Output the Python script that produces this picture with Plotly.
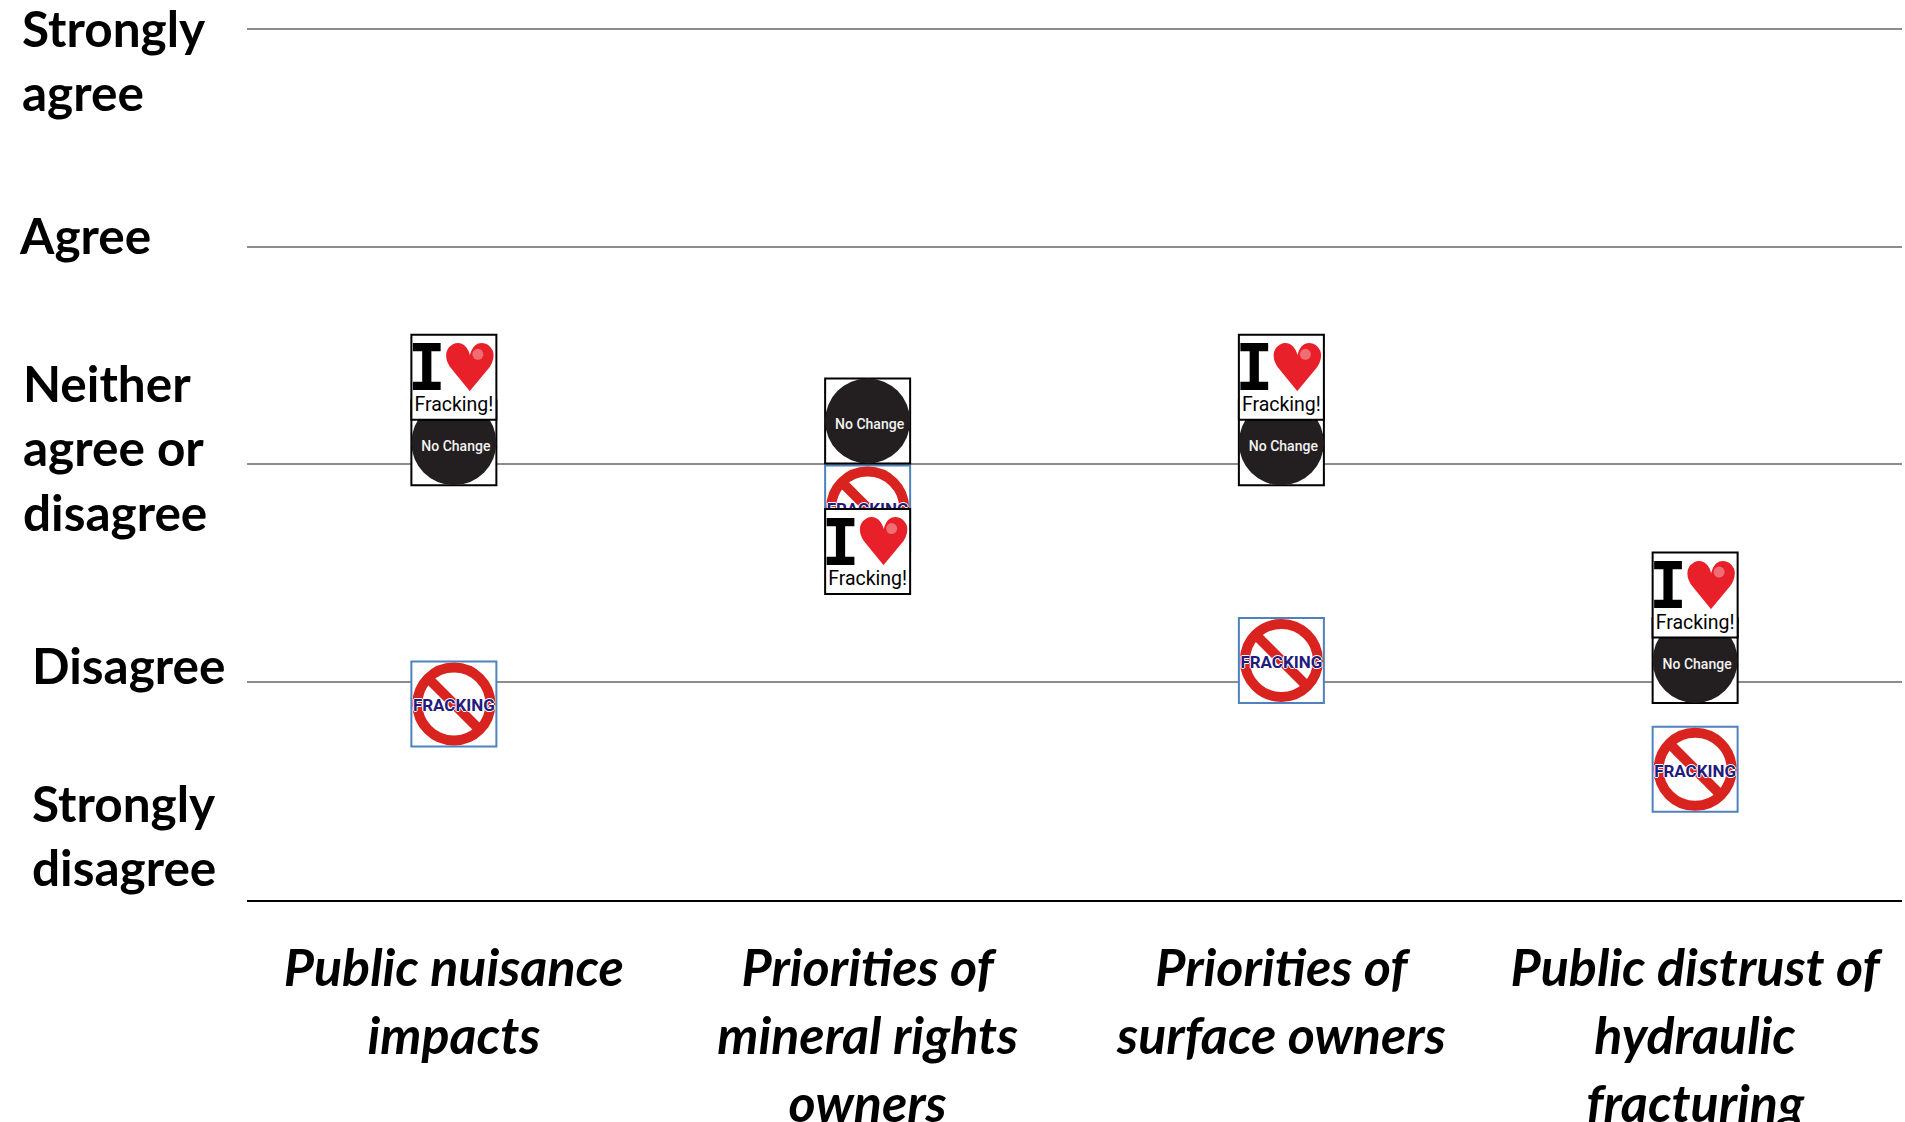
import plotly.graph_objects as go

categories = ['Public nuisance<br>impacts', 'Priorities of<br>mineral rights<br>owners',
              'Priorities of<br>surface owners', 'Public distrust of<br>hydraulic<br>fracturing']
no_fracking = [1.9, 2.8, 2.1, 1.6]
no_change = [3.1, 3.2, 3.1, 2.1]
love_fracking = [3.4, 2.6, 3.4, 2.4]
likert_scale = [1, 2, 3, 4, 5]

WIDTH, HEIGHT = 1905, 1122
Y_MAX = 5.05  # a bit above the last gridline, otherwise plotly drops it
LEFT, RIGHT, TOP, BOTTOM = 247, 3, 18, 222
X_UNIT = (WIDTH - LEFT - RIGHT) / 4
Y_UNIT = (HEIGHT - TOP - BOTTOM) / (Y_MAX - 1)
xpos = list(range(len(categories)))

fig = go.Figure()


# one layer of a pictogram: marker or text, shifted by a few pixels from the score
def layer(ys, dx=0, dy=0, **kwargs):
    fig.add_trace(go.Scatter(
        x=[x + dx / X_UNIT for x in xpos],
        y=[y - dy / Y_UNIT for y in ys],
        showlegend=False, hoverinfo='skip', cliponaxis=False, **kwargs
    ))


def box(ys, color):
    layer(ys, mode='markers', marker=dict(symbol='square', size=85, color='white',
                                          line=dict(color=color, width=2)))


def label(ys, text, dx, dy, size, color, family, weight='normal', shadow=None):
    font = dict(size=size, color=color, family=family, weight=weight)
    if shadow:
        font['shadow'] = shadow
    layer(ys, dx, dy, mode='text', text=[text] * len(ys), textposition='middle center', textfont=font)


# No fracking sign
box(no_fracking, '#4f81bd')
layer(no_fracking, mode='markers', marker=dict(symbol='circle-open', size=73, color='#d9231f',
                                               line=dict(width=10)))
layer(no_fracking, mode='markers', marker=dict(symbol='line-nw', size=57, color='#d9231f',
                                               line=dict(color='#d9231f', width=10)))
label(no_fracking, 'FRACKING', 0, 3, 17, '#231c7c', 'Roboto', weight='bold',
      shadow='1px 0 0 #fff, -1px 0 0 #fff, 0 1px 0 #fff, 0 -1px 0 #fff')

# No change disc
box(no_change, '#000000')
layer(no_change, mode='markers', marker=dict(symbol='circle', size=85, color='#231f20'))
label(no_change, 'No Change', 2, 5, 14, '#f2f2f2', 'Roboto', weight=500)

# I love fracking
box(love_fracking, '#000000')
label(love_fracking, 'I', -27, -3, 64, '#000000', 'DejaVu Sans Mono', weight='bold')
label(love_fracking, '♥', 16, -3, 66, '#e8202a', 'DejaVu Sans')
layer(love_fracking, 24, -23, mode='markers', marker=dict(symbol='circle', size=11, color='rgba(255,255,255,0.35)'))
label(love_fracking, 'Fracking!', 0, 29, 19.5, '#000000', 'Roboto')

# Scale labels sit in their own text boxes, placed by hand
scale_labels = [('Strongly<br>agree', 20, 60), ('Agree', 17, 235), ('Neither<br>agree or<br>disagree', 21, 447),
                ('Disagree', 30, 665), ('Strongly<br>disagree', 30, 835)]
for text, px, py in scale_labels:
    fig.add_annotation(text=text, xref='paper', yref='paper', showarrow=False, align='left',
                       x=(px - LEFT) / (WIDTH - LEFT - RIGHT),
                       y=1 - (py - TOP) / (HEIGHT - TOP - BOTTOM),
                       xanchor='left', yanchor='middle',
                       font=dict(size=49.5, color='black', family='Lato', weight='bold'))

fig.update_layout(
    width=WIDTH, height=HEIGHT, autosize=False,
    margin=dict(l=LEFT, r=RIGHT, t=TOP, b=BOTTOM),
    plot_bgcolor='white', paper_bgcolor='white',
    xaxis=dict(range=[-0.5, 3.5], tickvals=xpos, ticktext=categories, ticks='', showgrid=False, zeroline=False,
               showline=True, linecolor='black', linewidth=2, ticklabelstandoff=22, automargin=False,
               tickfont=dict(size=52, color='black', family='Lato', weight='bold', style='italic')),
    yaxis=dict(range=[1, Y_MAX], tickvals=likert_scale, showticklabels=False, ticks='', zeroline=False,
               showgrid=True, gridcolor='#8c8c8c', gridwidth=2, automargin=False),
)

fig.write_html('out.html', config={'displayModeBar': False}, post_script="document.body.style.margin='0';")
